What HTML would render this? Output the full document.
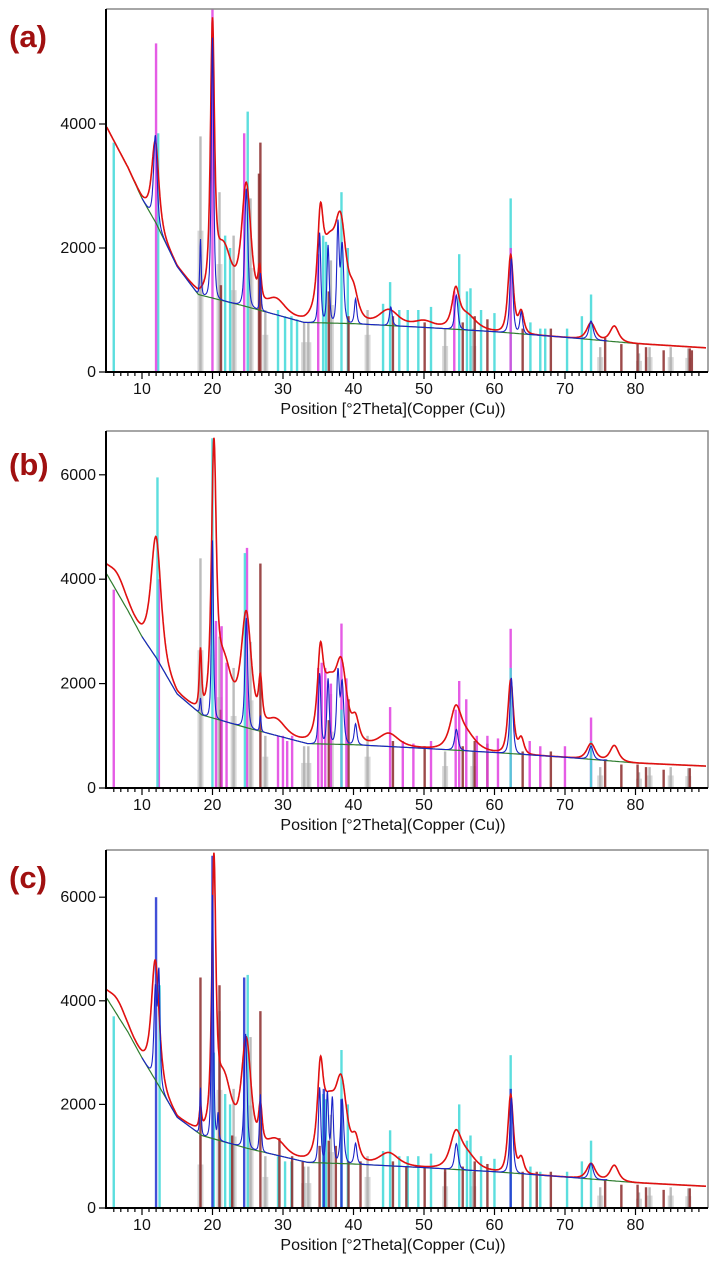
<!DOCTYPE html>
<html><head><meta charset="utf-8"><style>
html,body{margin:0;padding:0;background:#fff;width:719px;height:1265px;overflow:hidden}
svg{display:block;font-family:"Liberation Sans",sans-serif}
</style></head><body>
<svg id="chart" width="719" height="1265"></svg>
<script>
// ---------- DATA ----------
const xTicks=[10,20,30,40,50,60,70,80];
const panelLabels=["(a)","(b)","(c)"];
const yTicksA=[0,2000,4000], yTicksB=[0,2000,4000,6000], yTicksC=[0,2000,4000,6000];
// background anchor points
const bgXA=[5,8,10,12,15,18,25,33,40,50,60,70,80,90];
const bgYA=[3950,3300,2800,2400,1700,1250,1050,800,780,720,650,560,460,390];
const bgXB=[5,8,10,12,15,18.5,25,33.5,40,50,60,70,80,90];
const bgYB=[4100,3400,2900,2500,1800,1400,1150,850,830,760,680,590,480,420];
const bgXC=[5,8,10,12,15,18.5,25,33.5,40,50,60,70,80,90];
const bgYC=[4050,3400,2900,2450,1750,1400,1150,880,850,780,700,600,490,420];
// red (observed) peaks: position, amplitude, half width
const redPosA=[11.9,20.0,21.5,24.8,26.7,29,35.3,36.5,38.2,40,45,50,54.5,56,62.3,63.8,73.7,77];
const redAmpA=[1300,4100,900,1900,500,250,1250,1150,1350,400,250,100,550,250,1250,350,270,250];
const redWA=[0.9,0.5,2.2,1.2,0.4,2.5,0.7,2,1.4,1.2,2.5,2.5,0.9,2.5,0.7,0.7,1.1,1.1];
const redPosB=[6.5,12,18.3,20.2,21.5,24.8,26.8,29,35.3,36.5,38.3,40.3,45,54.5,56,62.3,63.8,73.7,77];
const redAmpB=[350,2300,1100,4700,1200,2100,800,300,1300,1100,1300,400,250,700,300,1400,300,300,300];
const redWB=[2.5,1.3,0.3,0.6,2.2,1.3,0.45,2.5,0.7,2,1.4,0.9,2.5,1.4,2.5,0.7,0.7,1.1,1.1];
const redPosC=[6.5,11.9,18.3,20.2,21.5,24.8,26.8,29,35.3,36.5,38.3,40.3,45,54.5,56,62.3,63.8,73.7,77];
const redAmpC=[300,2300,400,4800,1300,2000,700,300,1400,1100,1350,400,250,600,300,1500,300,300,300];
const redWC=[2.5,1.0,0.3,0.5,2.2,1.2,0.45,2.5,0.7,2,1.4,0.9,2.5,1.4,2.5,0.7,0.7,1.1,1.1];
// blue (fit) peaks
const bluePosA=[11.9,18.3,20.0,24.8,26.8,35.2,36.4,37.8,38.4,40.3,45.3,54.6,62.4,63.8,73.7];
const blueAmpA=[1400,900,4200,1900,600,1450,1250,1550,1250,400,300,550,1200,350,300];
const blueWA=[0.45,0.18,0.3,0.4,0.18,0.3,0.3,0.3,0.4,0.3,0.35,0.4,0.4,0.35,0.55];
const bluePosB=[18.3,20.0,24.8,26.8,35.2,36.4,37.8,38.4,40.3,54.6,62.4,73.7,77];
const blueAmpB=[300,3400,2100,300,1350,1250,1350,1150,400,400,1450,250,250];
const blueWB=[0.18,0.25,0.35,0.18,0.3,0.3,0.35,0.4,0.35,0.45,0.4,0.55,0.55];
const bluePosC=[11.9,12.4,18.3,20.0,20.8,24.7,26.8,35.2,36.3,37.0,38.4,40.3,54.6,62.4,73.7,77];
const blueAmpC=[1700,2100,900,4700,500,2200,1100,1450,1350,1250,1250,400,500,1450,300,300];
const blueWC=[0.35,0.3,0.18,0.25,0.18,0.35,0.22,0.3,0.3,0.3,0.4,0.35,0.45,0.4,0.55,0.55];
// stick patterns
const cyanPosA=[6,12.3,21.8,22.5,25,29.3,30.3,31.2,32,35.7,36.1,38.3,39.2,44.2,45.2,46.5,47.7,49.2,51,55,56.1,56.6,58.1,60,62.3,65.1,66.5,67.2,70.3,72.4,73.7];
const cyanHA=[3700,3850,2200,2000,4200,1000,900,900,850,2200,2100,2900,2000,1100,1450,1000,1000,1000,1050,1900,1300,1350,1000,950,2800,800,700,700,700,900,1250];
const magPosA=[12,20,24.5,35,54.3,62.3];
const magHA=[5300,5850,3850,1900,1300,2000];
const grayPosA=[18.3,21,23,25.4,27.5,33,33.6,36.8,42,53,57,75,80.5,82,85,87.5];
const grayHA=[3800,2900,2200,2800,1000,800,800,1800,1000,700,700,400,300,400,400,380];
const brownPosA=[26.6,26.8,21.2,36.5,39.3,45.6,50.1,55.5,57.2,59,64,68,75.7,78,80.3,81.5,84,87.7,88];
const brownHA=[3200,3700,1400,1300,900,900,800,800,900,850,700,700,550,450,450,400,350,380,350];

const cyanPosB=[12.2,20,24.6,62.3,73.7,38.3];
const cyanHB=[5950,6700,4500,2300,900,1500];
const magPosB=[6,12.4,20.5,21.3,22,24.9,29.3,30,30.6,31.3,35,35.5,36,36.8,38.3,39,45.2,47,48.5,51,54.5,55,56,57.5,59,60.5,62.3,65,66.5,70,73.7];
const magHB=[3800,4000,3200,3100,2400,4600,1000,1000,900,1000,2300,2400,2300,2000,3150,2100,1550,900,850,900,1500,2050,1700,1000,1000,950,3050,900,800,800,1350];
const grayPosB=[18.3,21,23,25.4,27.5,33,33.6,36.8,42,53,57,75,80.5,82,85,87.5];
const grayHB=[4400,2900,2300,2800,1000,800,800,1800,1000,700,700,400,300,400,400,380];
const brownPosB=[26.8,21.2,36.5,39.3,45.6,50.1,55.5,57.2,59,64,68,75.7,78,80.3,81.5,84,87.7];
const brownHB=[4300,1500,1300,1700,900,800,800,900,850,700,700,550,450,450,400,350,380];

const cyanPosC=[6,12.5,20.2,21.8,22.5,25,29.3,30.3,31.2,35.7,36.1,38.3,39.2,44.2,45.2,46.5,47.7,49.2,51,55,56.1,56.6,58.1,60,62.3,65.1,66.5,70.3,72.4,73.7];
const cyanHC=[3700,4300,3000,2200,2000,4500,1000,900,900,2200,2100,3050,2000,1100,1500,1000,1000,1000,1050,2000,1300,1400,1000,950,2950,800,700,700,900,1300];
const magPosC=[];
const magHC=[];
const grayPosC=[18.3,21,23,25.4,27.5,33,33.6,36.8,42,53,57,75,80.5,82,85,87.5];
const grayHC=[1400,3800,2300,3300,1000,800,800,1800,1000,700,700,400,300,400,400,380];
const brownPosC=[18.3,21,22.8,26.8,29.5,31.3,32.8,35.2,36.5,37.5,39.3,41,45.6,47.5,50.1,53,55.5,57.2,59,64,66,68,75.7,78,80.3,81.5,84,87.7];
const brownHC=[4450,4300,1400,3800,1350,1000,900,1200,1300,1200,900,900,900,800,800,750,800,900,850,700,700,700,550,450,450,400,350,380];
const bluePosSC=[12,20,24.5,62.3,35.8,38.3];
const blueHSC=[6000,6800,4450,2300,2300,2100];

// ---------- DRAW ----------
const svg=document.getElementById('chart');
const NS='http://www.w3.org/2000/svg';
function mk(tag,attrs,parent){const e=document.createElementNS(NS,tag);for(const k in attrs)e.setAttribute(k,attrs[k]);(parent||svg).appendChild(e);return e;}
const L=106,R=708;
const xs=v=>L+(v-4.9)*7.05;
function interp(xa,ya,x){if(x<=xa[0])return ya[0];for(let i=1;i<xa.length;i++){if(x<=xa[i]){const t=(x-xa[i-1])/(xa[i]-xa[i-1]);return ya[i-1]+t*(ya[i]-ya[i-1]);}}return ya[ya.length-1];}
function curve(bx,by,pp,pa,pw,x){let y=interp(bx,by,x);for(let i=0;i<pp.length;i++){const d=(x-pp[i])/pw[i];const q=1/(1+d*d);y+=pa[i]*q*q;}return y;}

const panels=[
 {top:9,y0:372,k:0.062,yt:yTicksA,bx:bgXA,by:bgYA,rp:redPosA,ra:redAmpA,rw:redWA,bp:bluePosA,ba:blueAmpA,bw:blueWA,
  sticks:[[grayPosA,grayHA,'#b0b0b0'],[cyanPosA,cyanHA,'#3fd8d8'],[brownPosA,brownHA,'#8b2a2a'],[magPosA,magHA,'#e040e0']],lab:panelLabels[0],labY:47},
 {top:431,y0:788,k:0.0522,yt:yTicksB,bx:bgXB,by:bgYB,rp:redPosB,ra:redAmpB,rw:redWB,bp:bluePosB,ba:blueAmpB,bw:blueWB,
  sticks:[[grayPosB,grayHB,'#b0b0b0'],[brownPosB,brownHB,'#8b2a2a'],[magPosB,magHB,'#e040e0'],[cyanPosB,cyanHB,'#3fd8d8']],lab:panelLabels[1],labY:475},
 {top:850,y0:1208,k:0.0518,yt:yTicksC,bx:bgXC,by:bgYC,rp:redPosC,ra:redAmpC,rw:redWC,bp:bluePosC,ba:blueAmpC,bw:blueWC,
  sticks:[[grayPosC,grayHC,'#b0b0b0'],[cyanPosC,cyanHC,'#3fd8d8'],[brownPosC,brownHC,'#8b2a2a'],[magPosC,magHC,'#e040e0'],[bluePosSC,blueHSC,'#2030d0']],lab:panelLabels[2],labY:888}
];

panels.forEach((p,pi)=>{
 const ys=v=>p.y0-v*p.k;
 const g=mk('g',{});
 
 
 // light gray shading bars
 p.sticks[0][0].forEach((x,i)=>{
   const r=mk('rect',{x:xs(x)-3,y:ys(p.sticks[0][1][i]*0.6),width:6,height:p.y0-ys(p.sticks[0][1][i]*0.6),fill:'#d8d8d8'},g);
   
   
 });
 p.sticks.forEach(([pos,h,c])=>{
   pos.forEach((x,i)=>{
     const r=mk('rect',{x:xs(x)-1.2,y:ys(h[i]),width:2.4,height:p.y0-ys(h[i]),fill:c,opacity:0.85},g);
     
     
   });
 });
 let d='';for(let x=5;x<=90;x+=0.25){d+=(d?'L':'M')+xs(x).toFixed(1)+','+ys(interp(p.bx,p.by,x)).toFixed(1);}
 const bgp=mk('path',{d,fill:'none',stroke:'#2e7d2e','stroke-width':1.2},g);
 
 
 d='';for(let x=5;x<=90;x+=0.05){d+=(d?'L':'M')+xs(x).toFixed(1)+','+ys(curve(p.bx,p.by,p.rp,p.ra,p.rw,x)).toFixed(1);}
 const rp=mk('path',{d,fill:'none',stroke:'#e01010','stroke-width':1.6},g);
 
 
 d='';for(let x=10;x<=76;x+=0.05){d+=(d?'L':'M')+xs(x).toFixed(1)+','+ys(curve(p.bx,p.by,p.bp,p.ba,p.bw,x)).toFixed(1);}
 const bp=mk('path',{d,fill:'none',stroke:'#1a22c8','stroke-width':1.1},g);
 
 
 const fr=mk('path',{d:`M${L},${p.top}H${R}V${p.y0}`,fill:'none',stroke:'#888','stroke-width':1.5},g);
 
 
 const ax=mk('path',{d:`M${L},${p.top}V${p.y0}H${R}`,fill:'none',stroke:'#000','stroke-width':2},g);
 
 
 let td='';for(let v=6;v<=89;v++){td+=`M${xs(v).toFixed(1)},${p.y0}v${v%10==0?7:4}`;}
 const tk=mk('path',{d:td,stroke:'#000','stroke-width':1.2},g);
 
 
 xTicks.forEach(v=>{
   const t=mk('text',{x:xs(v),y:p.y0+22,'text-anchor':'middle','font-size':16,fill:'#111'},g);
   t.textContent=v;
   
   
 });
 p.yt.forEach(v=>{
   const l=mk('line',{x1:L-7,x2:L,y1:ys(v),y2:ys(v),stroke:'#000','stroke-width':1.2},g);
   
   
   const t=mk('text',{x:L-10,y:ys(v)+5,'text-anchor':'end','font-size':16,fill:'#111'},g);
   t.textContent=v;
   
   
 });
 const xt=mk('text',{x:393,y:p.y0+42,'text-anchor':'middle','font-size':16,fill:'#111'},g);
 xt.textContent='Position [°2Theta](Copper (Cu))';
 
 
 const pl=mk('text',{x:9,y:p.labY,'font-size':31,'font-weight':'bold',fill:'#a01010'},g);
 pl.textContent=p.lab;
 
 
});
</script>
</body></html>
